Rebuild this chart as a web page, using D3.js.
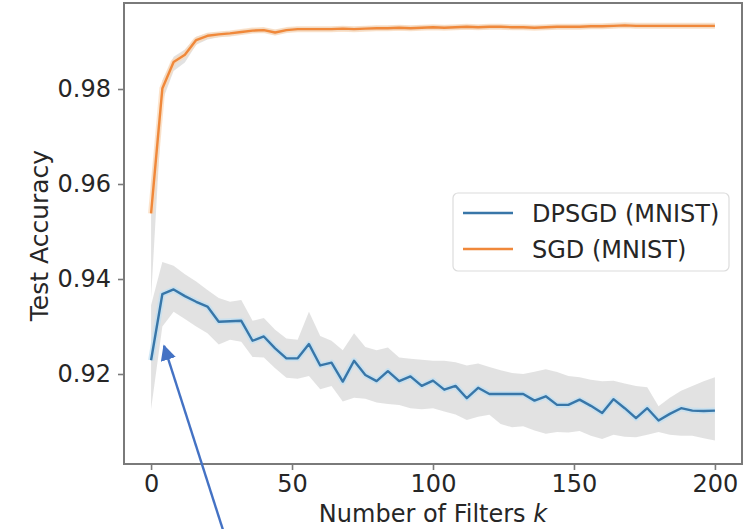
<!DOCTYPE html>
<html>
<head>
<meta charset="utf-8">
<script src="https://cdn.jsdelivr.net/npm/d3@7"></script>
<style>
  html, body { margin: 0; padding: 0; background: #fff; }
  svg { display: block; }
  text { font-family: "DejaVu Sans", sans-serif; fill: #262626; }
</style>
</head>
<body>
<div id="chart"></div>
<script>
// --- data (k = 0, 4, ..., 200) ---
const filters = [0, 4, 8, 12, 16, 20, 24, 28, 32, 36, 40, 44, 48, 52, 56, 60, 64, 68, 72, 76,
  80, 84, 88, 92, 96, 100, 104, 108, 112, 116, 120, 124, 128, 132, 136, 140, 144, 148, 152, 156,
  160, 164, 168, 172, 176, 180, 184, 188, 192, 196, 200];

const dpsgdMean = [0.9229, 0.9368, 0.9378, 0.9364, 0.9352, 0.9342, 0.9310, 0.9311, 0.9312, 0.9270,
  0.9279, 0.9254, 0.9233, 0.9233, 0.9263, 0.9218, 0.9224, 0.9184, 0.9228, 0.9198,
  0.9185, 0.9206, 0.9185, 0.9195, 0.9175, 0.9186, 0.9167, 0.9175, 0.9149, 0.9171,
  0.9158, 0.9158, 0.9158, 0.9158, 0.9144, 0.9153, 0.9135, 0.9135, 0.9146, 0.9133,
  0.9118, 0.9147, 0.9128, 0.9107, 0.9128, 0.9102, 0.9116, 0.9128, 0.9123, 0.9122, 0.9123];
const dpsgdUpper = [0.9345, 0.9436, 0.9428, 0.9410, 0.9395, 0.9377, 0.9360, 0.9352, 0.9356, 0.9312,
  0.9318, 0.9293, 0.9275, 0.9272, 0.9331, 0.9280, 0.9270, 0.9250, 0.9286, 0.9257,
  0.9250, 0.9256, 0.9235, 0.9232, 0.9230, 0.9228, 0.9228, 0.9225, 0.9218, 0.9222,
  0.9215, 0.9208, 0.9202, 0.9200, 0.9205, 0.9210, 0.9204, 0.9196, 0.9193, 0.9188,
  0.9185, 0.9186, 0.9180, 0.9175, 0.9172, 0.9132, 0.9150, 0.9165, 0.9175, 0.9185, 0.9193];
const dpsgdLower = [0.9126, 0.9300, 0.9331, 0.9316, 0.9300, 0.9286, 0.9262, 0.9272, 0.9268, 0.9236,
  0.9235, 0.9212, 0.9192, 0.9190, 0.9196, 0.9168, 0.9175, 0.9142, 0.9150, 0.9148,
  0.9140, 0.9137, 0.9135, 0.9128, 0.9126, 0.9128, 0.9121, 0.9115, 0.9103, 0.9110,
  0.9114, 0.9095, 0.9088, 0.9090, 0.9081, 0.9074, 0.9078, 0.9077, 0.9080, 0.9070,
  0.9063, 0.9072, 0.9068, 0.9067, 0.9072, 0.9078, 0.9072, 0.9070, 0.9070, 0.9065, 0.9060];

const sgdMean = [0.9538, 0.9801, 0.9857, 0.9872, 0.9903, 0.9912, 0.9915, 0.9917, 0.9920, 0.9923,
  0.9924, 0.9919, 0.9924, 0.9926, 0.9926, 0.9926, 0.9926, 0.9927, 0.9926, 0.9927,
  0.9928, 0.9928, 0.9929, 0.9928, 0.9929, 0.9930, 0.9929, 0.9930, 0.9931, 0.9930,
  0.9931, 0.9931, 0.9930, 0.9930, 0.9929, 0.9930, 0.9931, 0.9931, 0.9931, 0.9932,
  0.9932, 0.9933, 0.9934, 0.9933, 0.9933, 0.9933, 0.9933, 0.9933, 0.9933, 0.9933, 0.9933];
const sgdUpper = [0.9600, 0.9818, 0.9868, 0.9883, 0.9910, 0.9918, 0.9920, 0.9922, 0.9925, 0.9928,
  0.9929, 0.9925, 0.9929, 0.9931, 0.9931, 0.9931, 0.9931, 0.9932, 0.9931, 0.9932,
  0.9933, 0.9933, 0.9934, 0.9933, 0.9934, 0.9935, 0.9934, 0.9935, 0.9936, 0.9935,
  0.9936, 0.9936, 0.9935, 0.9935, 0.9934, 0.9935, 0.9936, 0.9936, 0.9936, 0.9937,
  0.9937, 0.9938, 0.9939, 0.9938, 0.9938, 0.9938, 0.9938, 0.9938, 0.9938, 0.9938, 0.9938];
const sgdLower = [0.9360, 0.9775, 0.9838, 0.9856, 0.9893, 0.9904, 0.9909, 0.9911, 0.9915, 0.9918,
  0.9919, 0.9913, 0.9919, 0.9921, 0.9921, 0.9921, 0.9921, 0.9922, 0.9921, 0.9922,
  0.9923, 0.9923, 0.9924, 0.9923, 0.9924, 0.9925, 0.9924, 0.9925, 0.9926, 0.9925,
  0.9926, 0.9926, 0.9925, 0.9925, 0.9924, 0.9925, 0.9926, 0.9926, 0.9926, 0.9927,
  0.9927, 0.9928, 0.9929, 0.9928, 0.9928, 0.9928, 0.9928, 0.9928, 0.9928, 0.9928, 0.9928];

const xTicks = [0, 50, 100, 150, 200];
const yTicks = [0.92, 0.94, 0.96, 0.98];
const seriesNames = ['DPSGD (MNIST)', 'SGD (MNIST)'];

// annotation arrow: [k, accuracy] from tail (below the axes) to tip
const arrowTail = [25.5, 0.8872];
const arrowTip = [4.6, 0.9259];

// --- layout ---
const W = 748, H = 529;
const plot = { left: 124, right: 742, top: 3, bottom: 464 };
const blue = '#3876a8', orange = '#f0883a';
const fontSize = 24;

const x = d3.scaleLinear().domain([-9.6, 209.6]).range([plot.left, plot.right]);
const y = d3.scaleLinear().domain([0.92, 0.98]).range([374, 89]);

const svg = d3.select('#chart').append('svg').attr('width', W).attr('height', H);

const rows = filters.map((k, i) => ({
  k, dm: dpsgdMean[i], du: dpsgdUpper[i], dl: dpsgdLower[i],
  sm: sgdMean[i], su: sgdUpper[i], sl: sgdLower[i],
}));

const area = (hi, lo) => d3.area().x(d => x(d.k)).y0(d => y(d[lo])).y1(d => y(d[hi]));
const line = key => d3.line().x(d => x(d.k)).y(d => y(d[key]));

const gPlot = svg.append('g');

// bands
gPlot.append('path').attr('d', area('su', 'sl')(rows))
  .attr('fill', '#d6d6d6').attr('fill-opacity', 0.7);
gPlot.append('path').attr('d', area('du', 'dl')(rows))
  .attr('fill', '#d6d6d6').attr('fill-opacity', 0.7);

// soft halos + lines
[['dm', blue, '#bfe0f4'], ['sm', orange, '#fbd9b8']].forEach(([key, col, halo]) => {
  gPlot.append('path').attr('d', line(key)(rows))
    .attr('fill', 'none').attr('stroke', halo).attr('stroke-width', 6)
    .attr('stroke-opacity', 0.7).attr('stroke-linejoin', 'round');
  gPlot.append('path').attr('d', line(key)(rows))
    .attr('fill', 'none').attr('stroke', col).attr('stroke-width', 2.4)
    .attr('stroke-linejoin', 'round');
});

// frame
svg.append('rect')
  .attr('x', plot.left).attr('y', plot.top)
  .attr('width', plot.right - plot.left).attr('height', plot.bottom - plot.top)
  .attr('fill', 'none').attr('stroke', '#7a7a7a').attr('stroke-width', 2);

// axes
const xAxis = svg.append('g').attr('transform', `translate(0,${plot.bottom})`)
  .call(d3.axisBottom(x).tickValues(xTicks).tickSize(6).tickPadding(5).tickFormat(d3.format('d')));
const yAxis = svg.append('g').attr('transform', `translate(${plot.left},0)`)
  .call(d3.axisLeft(y).tickValues(yTicks).tickSize(6).tickPadding(7).tickFormat(d3.format('.2f')));
[xAxis, yAxis].forEach(a => {
  a.select('.domain').remove();
  a.selectAll('.tick line').attr('stroke', '#7a7a7a').attr('stroke-width', 1.6);
  a.selectAll('.tick text').attr('font-size', fontSize).attr('fill', '#262626')
    .style('font-family', '"DejaVu Sans", sans-serif');
});

// axis labels
const xl = svg.append('text')
  .attr('x', (plot.left + plot.right) / 2).attr('y', 522)
  .attr('text-anchor', 'middle').attr('font-size', fontSize);
xl.append('tspan').text('Number of Filters ');
xl.append('tspan').attr('font-style', 'italic').text('k');

svg.append('text')
  .attr('transform', `translate(48,${(plot.top + plot.bottom) / 2 + 2}) rotate(-90)`)
  .attr('text-anchor', 'middle').attr('font-size', 25)
  .text('Test Accuracy');

// legend
const lg = svg.append('g').attr('transform', 'translate(453,193)');
lg.append('rect').attr('width', 276).attr('height', 78).attr('rx', 5)
  .attr('fill', '#fff').attr('fill-opacity', 0.85)
  .attr('stroke', '#dcdcdc').attr('stroke-width', 1.2);
[blue, orange].forEach((col, i) => {
  const yy = 20 + i * 36;
  lg.append('line').attr('x1', 10).attr('x2', 60).attr('y1', yy).attr('y2', yy)
    .attr('stroke', col).attr('stroke-width', 2.4);
  lg.append('text').attr('x', 79).attr('y', yy).attr('dy', '0.36em')
    .attr('font-size', fontSize).text(seriesNames[i]);
});

// annotation arrow
const arrowColor = '#4472c4';
const defs = svg.append('defs');
defs.append('marker').attr('id', 'ahead')
  .attr('viewBox', '0 0 10 10').attr('refX', 9).attr('refY', 5)
  .attr('markerWidth', 6.5).attr('markerHeight', 6.5).attr('markerUnits', 'strokeWidth')
  .attr('orient', 'auto')
  .append('path').attr('d', 'M0,0 L10,5 L0,10 z').attr('fill', arrowColor);
svg.append('line')
  .attr('x1', x(arrowTail[0])).attr('y1', y(arrowTail[1]))
  .attr('x2', x(arrowTip[0])).attr('y2', y(arrowTip[1]))
  .attr('stroke', arrowColor).attr('stroke-width', 2.4)
  .attr('marker-end', 'url(#ahead)');
</script>
</body>
</html>
